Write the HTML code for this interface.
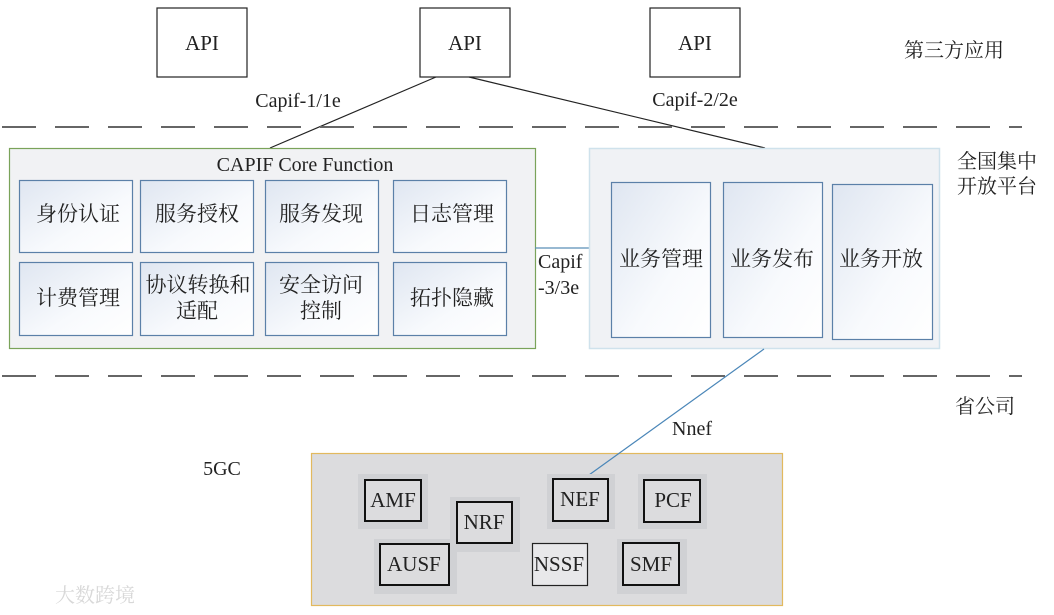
<!DOCTYPE html>
<html><head><meta charset="utf-8"><style>
html,body{margin:0;padding:0;background:#fff;width:1054px;height:615px;overflow:hidden}
svg text{font-family:"Liberation Serif","Noto Serif CJK SC",serif;fill:#222}
svg text.cn{font-family:"Liberation Serif","Noto Serif CJK SC",serif}
</style></head><body>
<svg width="1054" height="615" viewBox="0 0 1054 615" xmlns="http://www.w3.org/2000/svg">
<defs>
<linearGradient id="g" x1="0" y1="0" x2="1" y2="1">
<stop offset="0" stop-color="#dfe6f1"/><stop offset="0.6" stop-color="#f8fafd"/><stop offset="1" stop-color="#ffffff"/>
</linearGradient>
</defs>
<rect x="157" y="8" width="90" height="69" fill="#fff" stroke="#222" stroke-width="1.2"/>
<rect x="420" y="8" width="90" height="69" fill="#fff" stroke="#222" stroke-width="1.2"/>
<rect x="650" y="8" width="90" height="69" fill="#fff" stroke="#222" stroke-width="1.2"/>
<text x="202" y="50" font-size="21" text-anchor="middle">API</text>
<text x="465" y="50" font-size="21" text-anchor="middle">API</text>
<text x="695" y="50" font-size="21" text-anchor="middle">API</text>
<text x="954" y="57" font-size="20" class="cn" text-anchor="middle">第三方应用</text>
<line x1="436" y1="77" x2="270" y2="148" stroke="#222" stroke-width="1.2"/>
<line x1="469" y1="77" x2="765" y2="148" stroke="#222" stroke-width="1.2"/>
<text x="298" y="107" font-size="20" text-anchor="middle">Capif-1/1e</text>
<text x="695" y="106" font-size="20" text-anchor="middle">Capif-2/2e</text>
<line x1="2" y1="127" x2="1022" y2="127" stroke="#666" stroke-width="2" stroke-dasharray="34 19"/>
<line x1="2" y1="376" x2="1022" y2="376" stroke="#666" stroke-width="2" stroke-dasharray="34 19"/>
<rect x="9.5" y="148.5" width="526" height="200" fill="#f1f2f4" stroke="#7aa35a" stroke-width="1.2"/>
<text x="305" y="171" font-size="20" text-anchor="middle">CAPIF Core Function</text>
<g stroke="#5b80a8" stroke-width="1.2" fill="url(#g)">
<rect x="19.5" y="180.5" width="113" height="72"/><rect x="140.5" y="180.5" width="113" height="72"/>
<rect x="265.5" y="180.5" width="113" height="72"/><rect x="393.5" y="180.5" width="113" height="72"/>
<rect x="19.5" y="262.5" width="113" height="73"/><rect x="140.5" y="262.5" width="113" height="73"/>
<rect x="265.5" y="262.5" width="113" height="73"/><rect x="393.5" y="262.5" width="113" height="73"/>
</g>
<g font-size="21" text-anchor="middle">
<text x="78" y="221" class="cn">身份认证</text><text x="197" y="221" class="cn">服务授权</text>
<text x="321" y="221" class="cn">服务发现</text><text x="452" y="221" class="cn">日志管理</text>
<text x="78" y="305" class="cn">计费管理</text>
<text x="198" y="292" class="cn">协议转换和</text><text x="197" y="318" class="cn">适配</text>
<text x="321" y="292" class="cn">安全访问</text><text x="321" y="318" class="cn">控制</text>
<text x="452" y="305" class="cn">拓扑隐藏</text>
</g>
<line x1="535" y1="248" x2="590" y2="248" stroke="#5b8fb8" stroke-width="1.2"/>
<rect x="589.5" y="148.5" width="350" height="200" fill="#f0f2f5" stroke="#cfe2ec" stroke-width="1.5"/>
<g stroke="#5b80a8" stroke-width="1.2" fill="url(#g)">
<rect x="611.5" y="182.5" width="99" height="155"/>
<rect x="723.5" y="182.5" width="99" height="155"/>
<rect x="832.5" y="184.5" width="100" height="155"/>
</g>
<g font-size="21" text-anchor="middle">
<text x="661" y="266" class="cn">业务管理</text>
<text x="772" y="266" class="cn">业务发布</text>
<text x="881" y="266" class="cn">业务开放</text>
</g>
<text x="538" y="268" font-size="20">Capif</text>
<text x="538" y="294" font-size="20">-3/3e</text>
<text x="957" y="168" font-size="20" class="cn">全国集中</text>
<text x="957" y="193" font-size="20" class="cn">开放平台</text>
<text x="985" y="413" font-size="20" class="cn" text-anchor="middle">省公司</text>
<text x="222" y="475" font-size="20" text-anchor="middle">5GC</text>
<rect x="311.5" y="453.5" width="471" height="152" fill="#dcdcde" stroke="#e2b95e" stroke-width="1.2"/>
<line x1="764" y1="349" x2="582" y2="480" stroke="#4a86b8" stroke-width="1.2"/>
<text x="692" y="435" font-size="20" text-anchor="middle">Nnef</text>
<g fill="#d0d1d4">
<rect x="358" y="474" width="70" height="55"/><rect x="450" y="497" width="70" height="55"/>
<rect x="374" y="539" width="83" height="55"/><rect x="547" y="474" width="68" height="55"/>
<rect x="638" y="474" width="69" height="55"/><rect x="617" y="539" width="70" height="55"/>
</g>
<g stroke="#111" stroke-width="2" fill="#dcdcde">
<rect x="365" y="480" width="56" height="41"/><rect x="457" y="502" width="55" height="41"/>
<rect x="380" y="544" width="69" height="41"/><rect x="553" y="479" width="55" height="42"/>
<rect x="644" y="480" width="56" height="42"/><rect x="623" y="543" width="56" height="42"/>
</g>
<rect x="532.5" y="543.5" width="55" height="42" fill="#e8e8ea" stroke="#222" stroke-width="1.2"/>
<g font-size="21" text-anchor="middle">
<text x="393" y="507">AMF</text><text x="484" y="529">NRF</text><text x="414" y="571">AUSF</text>
<text x="580" y="506">NEF</text><text x="673" y="507">PCF</text><text x="559" y="571">NSSF</text><text x="651" y="571">SMF</text>
</g>
<text x="55" y="602" font-size="20" class="cn" style="fill:#d8d8d8">大数跨境</text>
</svg>
</body></html>
